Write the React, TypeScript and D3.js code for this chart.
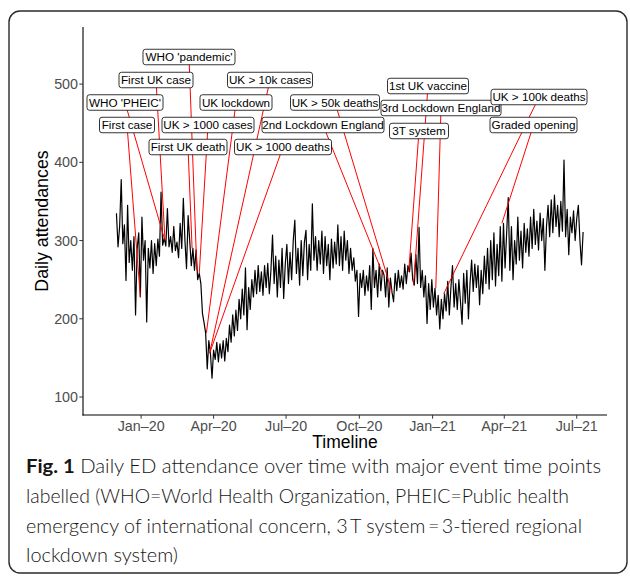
import React from 'react';
import * as d3 from 'd3';

// ---------- DATA ----------
const seriesStart = '2019-12-01';
const stepDays = 2;
const attendances = [
  // Dec 2019
  335, 292, 318, 378, 296, 320, 249, 345, 272, 300, 262, 305, 205, 290, 310, 228,
  // Jan 2020
  330, 275, 300, 196, 290, 265, 300, 258, 296, 268, 302, 280, 362, 294, 303,
  // Feb 2020
  293, 341, 292, 305, 285, 318, 287, 298, 278, 322, 290, 354, 300, 264, 332,
  // Mar 2020
  300, 268, 290, 262, 288, 250, 258, 245, 207, 195, 182, 136, 172, 156, 124,
  // Apr 2020
  160, 148, 170, 145, 168, 150, 172, 146, 175, 158, 192, 170, 205, 178, 211,
  // May 2020
  185, 225, 200, 238, 205, 265, 186, 240, 212, 250, 228, 262, 232, 268, 235, 260,
  // Jun 2020
  230, 268, 240, 271, 232, 262, 307, 245, 280, 228, 275, 240, 290, 226, 270,
  // Jul 2020
  295, 245, 285, 250, 300, 326, 258, 290, 243, 300, 255, 298, 313, 250, 295,
  // Aug 2020
  262, 347, 275, 305, 262, 300, 270, 312, 258, 305, 268, 295, 250, 302, 265, 298,
  // Sep 2020
  270, 320, 268, 305, 262, 312, 275, 300, 258, 290, 262, 278, 248, 262, 203,
  // Oct 2020
  258, 240, 262, 230, 255, 236, 268, 212, 290, 240, 262, 228, 270, 236, 262,
  // Nov 2020
  256, 228, 265, 215, 252, 234, 222, 258, 236, 262, 240, 255, 238, 270, 245,
  // Dec 2020
  268, 260, 284, 250, 243, 282, 245, 317, 240, 262, 228, 255, 194, 245, 212, 250,
  // Jan 2021
  215, 239, 205, 230, 187, 225, 200, 232, 210, 248, 205, 240, 268, 215, 245,
  // Feb 2021
  212, 250, 222, 193, 258, 220, 262, 200, 245, 275, 235, 270, 240, 268,
  // Mar 2021
  218, 262, 232, 280, 245, 290, 238, 300, 250, 310, 242, 295, 255, 318, 248, 322,
  // Apr 2021
  265, 310, 355, 262, 318, 250, 300, 270, 330, 275, 312, 265, 322, 285, 315,
  // May 2021
  280, 330, 290, 340, 295, 325, 288, 335, 300, 328, 262, 318, 345, 305, 352,
  // Jun 2021
  310, 358, 318, 345, 305, 350, 312, 403, 305, 340, 282, 330, 310, 338, 300,
  // Jul 2021
  328, 345, 300, 269, 311,
];

const yTicks = [100, 200, 300, 400, 500];
const xTickDates = ['2020-01-01', '2020-04-01', '2020-07-01', '2020-10-01', '2021-01-01', '2021-04-01', '2021-07-01'];
const xTickLabels = ['Jan\u201320', 'Apr\u201320', 'Jul\u201320', 'Oct\u201320', 'Jan\u201321', 'Apr\u201321', 'Jul\u201321'];
const xDomain = ['2019-10-20', '2021-08-08'];
const yDomain = [77, 573];

const eventNames = [
  'First case', "WHO 'PHEIC'", 'First UK case', 'First UK death', "WHO 'pandemic'",
  'UK > 1000 cases', 'UK lockdown', 'UK > 10k cases', 'UK > 1000 deaths',
  '2nd Lockdown England', 'UK > 50k deaths', '3T system', '1st UK vaccine',
  '3rd Lockdown England', 'UK > 100k deaths', 'Graded opening',
];
const eventDates = [
  '2019-12-31', '2020-01-30', '2020-01-31', '2020-03-05', '2020-03-11',
  '2020-03-14', '2020-03-23', '2020-03-27', '2020-03-27',
  '2020-10-31', '2020-11-11', '2020-12-02', '2020-12-08',
  '2021-01-05', '2021-01-15', '2021-03-29',
];
const eventValues = [228, 303, 300, 290, 262, 258, 182, 156, 156, 256, 234, 260, 243, 239, 232, 322];

const yTitle = 'Daily attendances';
const xTitle = 'Timeline';
const captionBold = 'Fig. 1';
const captionLines = [
  ' Daily ED attendance over time with major event time points',
  'labelled (WHO=World Health Organization, PHEIC=Public health',
  'emergency of international concern, 3\u2009T system\u2009=\u20093-tiered regional',
  'lockdown system)',
];

// ---------- LAYOUT (pixels) ----------
const W = 630;
const H = 576;
const panel = { left: 83, right: 607, top: 27, bottom: 415 };
// label box centres / widths as placed by the repel algorithm
const labelLayout = [
  { cx: 127, cy: 125, w: 55 },
  { cx: 125, cy: 102.5, w: 76 },
  { cx: 156, cy: 80, w: 74 },
  { cx: 188, cy: 147, w: 78 },
  { cx: 189, cy: 57, w: 92 },
  { cx: 208, cy: 125, w: 92 },
  { cx: 236, cy: 102.5, w: 72 },
  { cx: 270, cy: 80, w: 85 },
  { cx: 283, cy: 147, w: 97 },
  { cx: 323, cy: 125, w: 122 },
  { cx: 335, cy: 102.5, w: 89 },
  { cx: 419, cy: 131, w: 59 },
  { cx: 428, cy: 86, w: 81 },
  { cx: 441, cy: 108, w: 120 },
  { cx: 539, cy: 97, w: 96 },
  { cx: 533.5, cy: 125, w: 87 },
];
const captionLayout = [
  { y: 473, len: 575 },
  { y: 502.5, len: 543 },
  { y: 532.5, len: 556 },
  { y: 561.5, len: 152 },
];

const parse = d3.utcParse('%Y-%m-%d');

export default function App() {
  const x = d3.scaleUtc()
    .domain(xDomain.map((s) => parse(s) as Date))
    .range([panel.left, panel.right]);
  const y = d3.scaleLinear().domain(yDomain).range([panel.bottom, panel.top]);

  const start = parse(seriesStart) as Date;
  const points = attendances.map((v, i) => ({ date: d3.utcDay.offset(start, i * stepDays), v }));
  const line = d3.line<{ date: Date; v: number }>()
    .x((d) => x(d.date))
    .y((d) => y(d.v));

  const font = "'Liberation Sans', Arial, Helvetica, sans-serif";
  const boxH = 15.5;

  return (
    <svg width={W} height={H} style={{ position: 'absolute', left: 0, top: 0, background: '#fff' }}>
      <rect x={0} y={0} width={W} height={H} fill="#fff" />
      <rect x={9} y={11} width={618} height={562} rx={11} ry={11} fill="#fff" stroke="#2a2a2a" strokeWidth={1.4} />

      {/* data line */}
      <path d={line(points) || ''} fill="none" stroke="#000" strokeWidth={1.2} strokeLinejoin="round" />

      {/* repel segments */}
      {eventNames.map((n, i) => (
        <line
          key={'seg' + i}
          x1={labelLayout[i].cx}
          y1={labelLayout[i].cy}
          x2={x(parse(eventDates[i]) as Date)}
          y2={y(eventValues[i])}
          stroke="#ff0000"
          strokeWidth={1}
        />
      ))}

      {/* labels */}
      {eventNames.map((n, i) => {
        const L = labelLayout[i];
        return (
          <g key={'lab' + i}>
            <rect
              x={L.cx - L.w / 2}
              y={L.cy - boxH / 2}
              width={L.w}
              height={boxH}
              rx={2.5}
              ry={2.5}
              fill="#fff"
              stroke="#000"
              strokeWidth={0.8}
            />
            <text x={L.cx} y={L.cy + 4.2} textAnchor="middle" fontFamily={font} fontSize={11.7} fill="#000">
              {n}
            </text>
          </g>
        );
      })}

      {/* axes */}
      <line x1={panel.left} x2={panel.left} y1={panel.top} y2={panel.bottom + 0.5} stroke="#000" strokeWidth={1.1} />
      <line x1={panel.left - 0.5} x2={panel.right} y1={panel.bottom} y2={panel.bottom} stroke="#000" strokeWidth={1.1} />
      {yTicks.map((t) => (
        <g key={'yt' + t}>
          <line x1={panel.left - 3.7} x2={panel.left} y1={y(t)} y2={y(t)} stroke="#333" strokeWidth={1} />
          <text x={panel.left - 5} y={y(t) + 5} textAnchor="end" fontFamily={font} fontSize={14.3} fill="#4d4d4d">
            {t}
          </text>
        </g>
      ))}
      {xTickDates.map((s, i) => {
        const xx = x(parse(s) as Date);
        return (
          <g key={'xt' + s}>
            <line x1={xx} x2={xx} y1={panel.bottom} y2={panel.bottom + 3.7} stroke="#333" strokeWidth={1} />
            <text x={xx} y={430.5} textAnchor="middle" fontFamily={font} fontSize={14.3} fill="#4d4d4d">
              {xTickLabels[i]}
            </text>
          </g>
        );
      })}
      <text x={(panel.left + panel.right) / 2} y={448} textAnchor="middle" fontFamily={font} fontSize={17.5} fill="#000">
        {xTitle}
      </text>
      <text
        transform={`translate(48,${(panel.top + panel.bottom) / 2}) rotate(-90)`}
        textAnchor="middle"
        fontFamily={font}
        fontSize={17.8}
        fill="#000"
      >
        {yTitle}
      </text>

      {/* caption */}
      {captionLines.map((s, i) => (
        <text
          key={'cap' + i}
          x={26}
          y={captionLayout[i].y}
          fontFamily="Lato, 'Open Sans', sans-serif"
          fontSize={19}
          fontWeight={300}
          fill="#151515"
          textLength={captionLayout[i].len}
          lengthAdjust="spacingAndGlyphs"
        >
          {i === 0 ? <tspan fontWeight="bold">{captionBold}</tspan> : null}
          {s}
        </text>
      ))}
    </svg>
  );
}
